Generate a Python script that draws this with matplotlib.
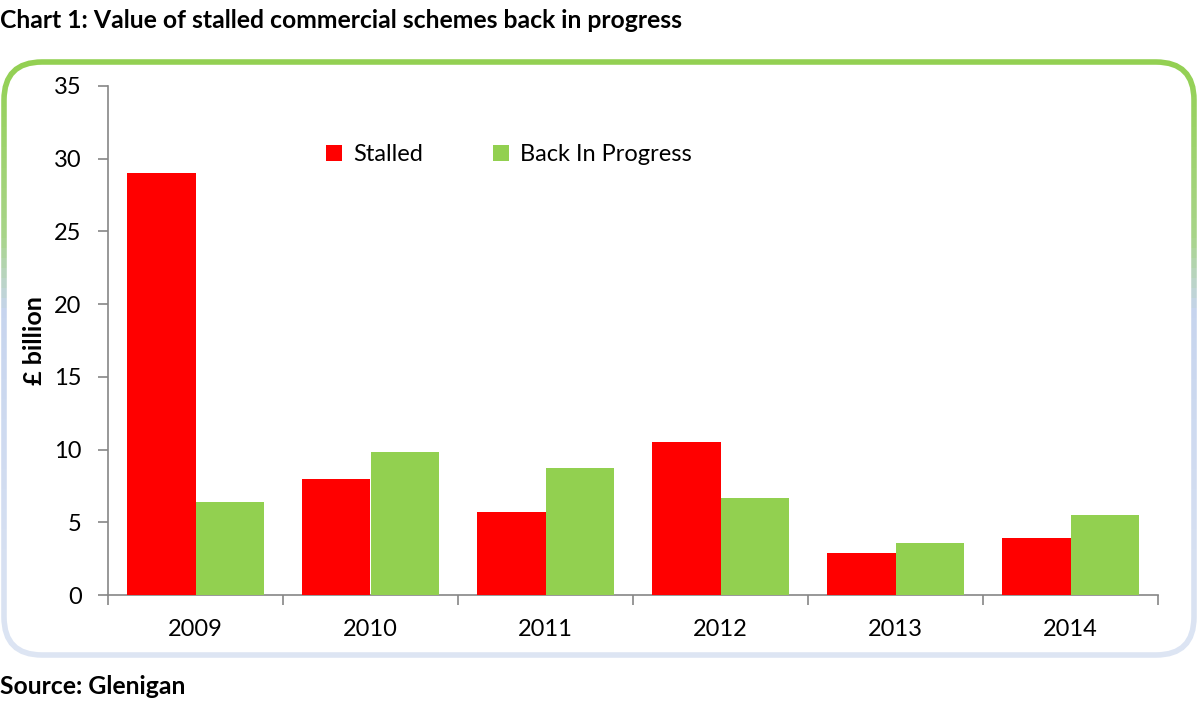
import numpy as np
import matplotlib
matplotlib.use("Agg")
import matplotlib.pyplot as plt
from matplotlib.patches import FancyBboxPatch, Rectangle
from matplotlib.colors import to_rgb

years = ["2009", "2010", "2011", "2012", "2013", "2014"]
stalled = [29.0, 8.0, 5.7, 10.5, 2.9, 3.9]
back_in_progress = [6.4, 9.8, 8.7, 6.7, 3.6, 5.5]
series_names = ["Stalled", "Back In Progress"]
yticks = [0, 5, 10, 15, 20, 25, 30, 35]

RED = "#ff0000"
GREEN = "#92d050"
AXIS = "#868686"
FONT = "Lato"

W, H = 1200, 712
fig = plt.figure(figsize=(W / 100, H / 100), dpi=100)

# Overlay axes in pixel coordinates for the frame
bg = fig.add_axes([0, 0, 1, 1])
bg.set_xlim(0, W)
bg.set_ylim(H, 0)
bg.axis("off")

# Gradient rounded frame
stops = [(0.0, "#92d050"), (0.30, "#a8d48a"), (0.42, "#c6d4ee"), (1.0, "#dde5f3")]
def col_at(t):
    for (t0, c0), (t1, c1) in zip(stops[:-1], stops[1:]):
        if t0 <= t <= t1:
            f = (t - t0) / (t1 - t0) if t1 > t0 else 0
            a, b = np.array(to_rgb(c0)), np.array(to_rgb(c1))
            return tuple(a + (b - a) * f)
    return to_rgb(stops[-1][1])

x0, y0, x1, y1 = 4, 62, 1194, 655
nb = 60
for i in range(nb):
    ya = y0 - 5 + (y1 - y0 + 10) * i / nb
    yb = y0 - 5 + (y1 - y0 + 10) * (i + 1) / nb
    t = (i + 0.5) / nb
    p = FancyBboxPatch((x0, y0), x1 - x0, y1 - y0,
                       boxstyle="round,pad=0,rounding_size=38",
                       fill=False, edgecolor=col_at(t), linewidth=4)
    bg.add_patch(p)
    clip = Rectangle((0, ya), W, yb - ya, transform=bg.transData)
    p.set_clip_path(clip)

# Main chart axes
ax = fig.add_axes([108 / W, 1 - 595 / H, (1158 - 108) / W, (595 - 86) / H])
ax.patch.set_alpha(0)
x = np.arange(len(years))
bw = 0.394
ax.bar(x - bw / 2, stalled, bw, color=RED, label=series_names[0], zorder=3)
ax.bar(x + bw / 2, back_in_progress, bw, color=GREEN, label=series_names[1], zorder=3)

ax.set_xlim(-0.5, len(years) - 0.5)
ax.set_ylim(0, 35)
ax.set_yticks(yticks)
ax.set_yticklabels([str(v) for v in yticks], fontsize=17, family=FONT)
ax.set_xticks(np.arange(-0.5, len(years), 1.0))
ax.set_xticklabels([])
ax.set_xticks(x, minor=True)
ax.set_xticklabels(years, minor=True, fontsize=17, family=FONT)
ax.tick_params(axis="x", which="minor", length=0, pad=17)
ax.tick_params(axis="x", which="major", length=7, color=AXIS, width=1.2)
ax.tick_params(axis="y", length=7, color=AXIS, width=1.2, pad=12)
for s in ["top", "right"]:
    ax.spines[s].set_visible(False)
for s in ["left", "bottom"]:
    ax.spines[s].set_color(AXIS)
    ax.spines[s].set_linewidth(1.2)

ax.set_ylabel("£ billion", fontsize=18, fontweight="bold", family=FONT)
ax.yaxis.set_label_coords(-0.059, 0.5)

leg = ax.legend(loc="center left", bbox_to_anchor=(0.2075, 0.865), ncol=2, frameon=False,
                prop={"family": FONT, "size": 17}, handlelength=0.7, handleheight=0.7,
                columnspacing=2.95, handletextpad=0.45, borderaxespad=0, borderpad=0)

fig.text(0, 1 - 20 / H, "Chart 1: Value of stalled commercial schemes back in progress",
         fontsize=17.8, fontweight="bold", family=FONT, va="center", ha="left")
fig.text(0, 1 - 686 / H, "Source: Glenigan", fontsize=17.8, fontweight="bold",
         family=FONT, va="center", ha="left")

fig.savefig("out.png", dpi=100)
